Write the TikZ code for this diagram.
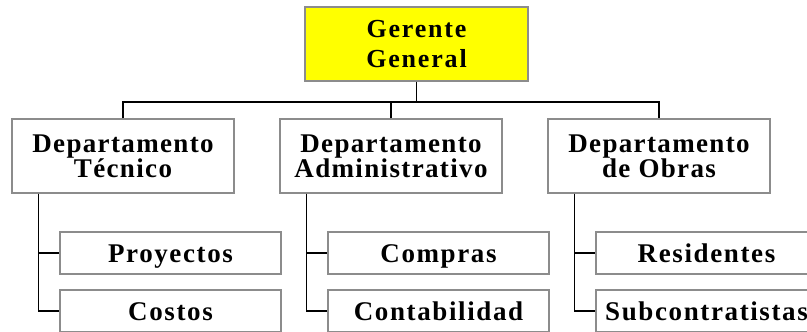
\documentclass[tikz,border=0pt]{standalone}
\usepackage{fontspec}
\setmainfont{Liberation Serif}
\newfontfamily\topfont{Liberation Serif}[LetterSpace=7]
\newfontfamily\deptfont{Liberation Serif}[LetterSpace=5]
\newfontfamily\childfont{Liberation Serif}[LetterSpace=6]
\definecolor{boxgray}{HTML}{8C8C8C}
\definecolor{topyellow}{HTML}{FFFF00}
\begin{document}
\begin{tikzpicture}[x=1bp,y=-1bp,
  box/.style={draw=boxgray, line width=1.2bp, fill=white, rectangle, inner sep=0pt, align=center},
  topbox/.style={box, fill=topyellow, minimum width=223bp, minimum height=74bp, font=\topfont\fontsize{26bp}{30bp}\selectfont\bfseries},
  deptbox/.style={box, minimum width=222bp, minimum height=74bp, font=\deptfont\fontsize{27bp}{25bp}\selectfont\bfseries},
  childbox/.style={box, minimum width=221bp, minimum height=42bp, text height=20bp, text depth=2bp, font=\childfont\fontsize{27bp}{27bp}\selectfont\bfseries},
  link/.style={draw=black, line width=1.3bp}]
\useasboundingbox (0,0) rectangle (807,331);
\node[topbox] (top) at (416.5,44) {Gerente\\General};
\node[deptbox] (d1) at (123,156) {Departamento\\Técnico};
\node[deptbox] (d2) at (391,156) {Departamento\\Administrativo};
\node[deptbox] (d3) at (659,156) {Departamento\\de Obras};
\node[childbox] (c11) at (170.5,253) {Proyectos};
\node[childbox] (c12) at (170.5,311) {Costos};
\node[childbox] (c21) at (438.5,253) {Compras};
\node[childbox] (c22) at (438.5,311) {Contabilidad};
\node[childbox] (c31) at (706.5,253) {Residentes};
\node[childbox] (c32) at (706.5,311) {Subcontratistas};
\coordinate (bus) at (417,102);
\draw[link] (top.south) -- (top.south |- bus);
\draw[link] (d1.north) -- (d1.north |- bus) -- (d3.north |- bus) -- (d3.north);
\draw[link] (d2.north) -- (d2.north |- bus);
\foreach \d/\a/\b in {d1/c11/c12, d2/c21/c22, d3/c31/c32}{
  \coordinate (\d t) at ([xshift=27bp]\d.south west);
  \draw[link] (\d t) |- (\a.west);
  \draw[link] (\d t) |- (\b.west);
}
\end{tikzpicture}
\end{document}
